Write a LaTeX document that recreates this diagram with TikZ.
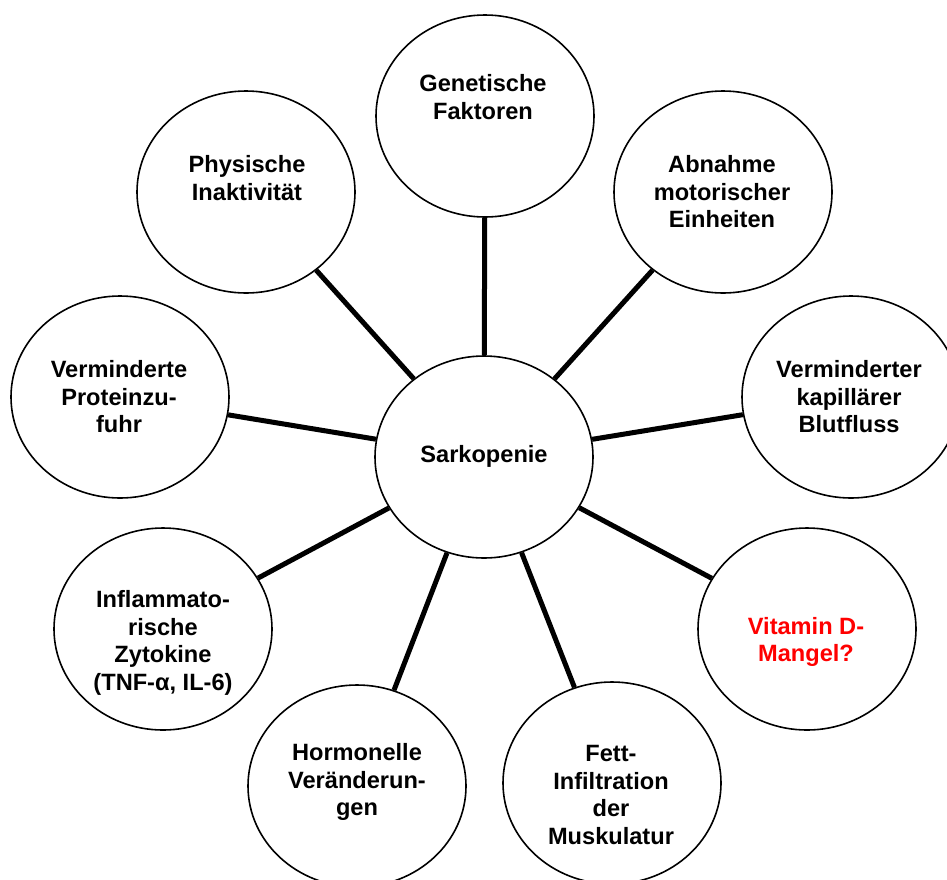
\documentclass[tikz,border=0pt]{standalone}
\usepackage{fontspec}
\setmainfont{Liberation Sans}
\usetikzlibrary{shapes.geometric}
\tikzset{
  bubble/.style={ellipse, draw=black, line width=1.6pt, fill=white,
    minimum width=218pt, minimum height=202pt, inner sep=0pt},
  link/.style={line width=5pt, draw=black},
  caption/.style={align=center, font=\fontsize{23.6pt}{27.5pt}\selectfont\bfseries,
    inner sep=0pt, text=black},
}
\begin{document}
\begin{tikzpicture}[x=1pt,y=-1pt]
  \useasboundingbox (0,0) rectangle (947,879);
  % bubbles
  \node[bubble] (c)   at (484,457) {};
  \node[bubble] (gen) at (485,116) {};
  \node[bubble] (phy) at (246,192) {};
  \node[bubble] (abn) at (723,192) {};
  \node[bubble] (pro) at (120,397) {};
  \node[bubble] (kap) at (851,397) {};
  \node[bubble] (zyt) at (163,629) {};
  \node[bubble] (hor) at (357,786) {};
  \node[bubble] (fet) at (612,783) {};
  \node[bubble] (vit) at (807,629) {};
  % spokes from the centre to every factor
  \foreach \n in {gen,phy,abn,pro,kap,zyt,hor,fet,vit}
    \draw[link] (c) -- (\n);
  % texts
  \node[caption] (tc)   at (484,456) {Sarkopenie};
  \node[caption] (tgen) at (483,97)  {Genetische\\Faktoren};
  \node[caption] (tphy) at (247,178) {Physische\\Inaktivität};
  \node[caption] (tabn) at (722,192) {Abnahme\\motorischer\\Einheiten};
  \node[caption] (tpro) at (119,397) {Verminderte\\Proteinzu-\\fuhr};
  \node[caption] (tkap) at (849,397) {Verminderter\\kapillärer\\Blutfluss};
  \node[caption] (tzyt) at (163,643) {Inflammato-\\rische\\Zytokine\\(TNF-α, IL-6)};
  \node[caption] (thor) at (357,782) {Hormonelle\\Veränderun-\\gen};
  \node[caption] (tfet) at (611,795) {Fett-\\Infiltration\\der\\Muskulatur};
  \node[caption, text=red] (tvit) at (806,642) {Vitamin D-\\Mangel?};
\end{tikzpicture}
\end{document}
